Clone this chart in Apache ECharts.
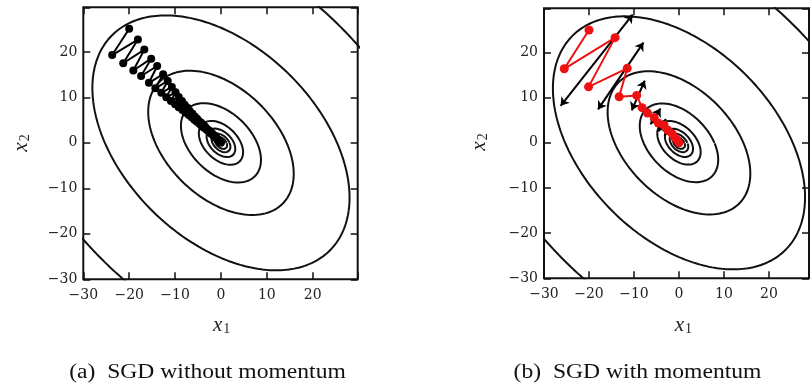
<!DOCTYPE html>
<html><head><meta charset="utf-8">
<script src="https://cdn.jsdelivr.net/npm/echarts@6/dist/echarts.min.js"></script>
<style>html,body{margin:0;padding:0;background:#fff}#c{width:812px;height:388px}</style>
</head><body><div id="c"></div>
<script>
// ---- data ----
const tickValues = [-30, -20, -10, 0, 10, 20];
const axisMin = -30;
const axisMaxA = 29.8, axisMaxB = 28.9;
// quadratic loss f(x1,x2) = a*x1^2 + 2*b*x1*x2 + c*x2^2
const quadA = 1, quadB = 0.43, quadC = 1;
const contourLevels = [1900, 640, 205, 62, 19, 8, 3.5, 1.5];

const sgdPath = [
  [-20.0, 25.1], [-23.7, 19.3], [-18.1, 22.7], [-21.3, 17.5], [-16.7, 20.5],
  [-19.1, 15.9], [-15.2, 18.5], [-17.4, 14.7], [-13.9, 16.9], [-15.7, 13.2],
  [-12.6, 15.1], [-14.3, 12.0], [-11.6, 13.6], [-13.0, 11.0], [-10.7, 12.3],
  [-11.9, 10.0], [-9.9, 11.1], [-10.9, 9.2], [-9.2, 10.1], [-10.0, 8.5],
  [-8.5, 9.2], [-9.2, 7.8], [-7.9, 8.4], [-8.4, 7.2], [-7.3, 7.7],
  [-7.7, 6.6], [-6.8, 7.0], [-7.0, 6.1], [-6.2, 6.4], [-6.4, 5.6],
  [-5.7, 5.8], [-5.8, 5.1], [-5.2, 5.3], [-5.3, 4.7], [-4.8, 4.8],
  [-4.8, 4.3], [-4.3, 4.4], [-4.4, 3.9], [-3.9, 4.0], [-3.9, 3.5],
  [-3.5, 3.6], [-3.5, 3.2], [-3.2, 3.2], [-3.1, 2.9], [-2.8, 2.9],
  [-2.8, 2.6], [-2.5, 2.6], [-2.4, 2.3], [-2.2, 2.3], [-2.1, 2.0],
  [-1.9, 2.0], [-1.8, 1.8], [-1.6, 1.7], [-1.5, 1.5], [-1.3, 1.4],
  [-1.2, 1.2], [-1.0, 1.1], [-0.9, 0.9], [-0.7, 0.8], [-0.6, 0.6],
  [-0.4, 0.5], [-0.3, 0.3], [-0.1, 0.2], [0.0, 0.0]
];

const momentumPath = [
  [-20.0, 25.0], [-25.5, 16.4], [-14.2, 23.3], [-20.1, 12.4], [-11.5, 16.5],
  [-13.3, 10.2], [-9.4, 10.5], [-8.2, 7.8], [-7.0, 6.6], [-5.5, 5.6],
  [-4.6, 4.4], [-3.3, 3.9], [-2.4, 2.7], [-1.5, 2.0], [-0.9, 1.1],
  [-0.3, 0.5], [0.0, 0.0]
];

const gradientArrows = [
  [[-26.3, 8.2], [-10.3, 28.4]],
  [[-18.0, 7.4], [-7.9, 22.2]],
  [[-10.5, 7.2], [-7.6, 13.8]],
  [[-6.3, 4.1], [-4.1, 7.6]],
  [[-4.6, 2.5], [-2.9, 5.3]],
  [[-3.2, 1.5], [-2.0, 3.6]]
];

const xName = 'x', xSub = '1', yName = 'x', ySub = '2';
const captions = ['(a)  SGD without momentum', '(b)  SGD with momentum'];

// ---- build ----
function contour(L) {
  const pts = [];
  for (let i = 0; i <= 360; i++) {
    const t = i * Math.PI / 180, c = Math.cos(t), s = Math.sin(t);
    const r = Math.sqrt(L / (quadA * c * c + 2 * quadB * c * s + quadC * s * s));
    pts.push([r * c, r * s]);
  }
  return pts;
}
function fmt(v) {
  if (Math.abs(v - Math.round(v / 10) * 10) > 1e-6 || tickValues.indexOf(Math.round(v)) < 0) return '';
  return v < 0 ? '\u2212' + (-v) : String(v);
}
const labelStyle = { fontFamily: 'DejaVu Serif', fontSize: 14, color: '#222', formatter: fmt };
const tickStyle = { inside: true, length: 7, lineStyle: { color: '#111', width: 1.5 } };
const noLine = { show: false, onZero: false };

const grids = [
  { left: 83.3, top: 7.3, width: 274.4, height: 272, show: true, borderColor: '#111', borderWidth: 2, backgroundColor: 'transparent' },
  { left: 544, top: 8.3, width: 272, height: 270, show: true, borderColor: '#111', borderWidth: 2, backgroundColor: 'transparent' }
];
const xMaxes = [axisMaxA, axisMaxB];
const xAxes = [], yAxes = [];
for (let g = 0; g < 2; g++) {
  xAxes.push({ type: 'value', gridIndex: g, position: 'bottom', min: axisMin, max: xMaxes[g], interval: 10,
    axisLine: noLine, axisTick: tickStyle, splitLine: { show: false },
    axisLabel: Object.assign({ margin: 9 }, labelStyle) });
  xAxes.push({ type: 'value', gridIndex: g, position: 'top', min: axisMin, max: xMaxes[g], interval: 10,
    axisLine: noLine, axisTick: tickStyle, splitLine: { show: false }, axisLabel: { show: false } });
  yAxes.push({ type: 'value', gridIndex: g, position: 'left', min: axisMin, max: axisMaxA, interval: 10,
    axisLine: noLine, axisTick: tickStyle, splitLine: { show: false },
    axisLabel: Object.assign({ margin: 6 }, labelStyle) });
  yAxes.push({ type: 'value', gridIndex: g, position: 'right', min: axisMin, max: axisMaxA, interval: 10,
    axisLine: noLine, axisTick: tickStyle, splitLine: { show: false }, axisLabel: { show: false } });
}

const series = [];
for (let g = 0; g < 2; g++) {
  contourLevels.forEach(L => {
    series.push({ type: 'line', xAxisIndex: g * 2, yAxisIndex: g * 2, data: contour(L), showSymbol: false,
      symbol: 'none', clip: true, silent: true, z: 2,
      lineStyle: { color: '#111', width: 2 } });
  });
}
series.push({ type: 'line', xAxisIndex: 0, yAxisIndex: 0, data: sgdPath, symbol: 'circle', symbolSize: 8,
  showSymbol: true, clip: true, z: 5, itemStyle: { color: '#000' }, lineStyle: { color: '#000', width: 2 } });
series.push({ type: 'lines', coordinateSystem: 'cartesian2d', xAxisIndex: 2, yAxisIndex: 2, z: 4,
  symbol: ['arrow', 'arrow'], symbolSize: 8,
  lineStyle: { color: '#000', width: 2, opacity: 1 },
  data: gradientArrows.map(a => ({ coords: a })) });
series.push({ type: 'line', xAxisIndex: 2, yAxisIndex: 2, data: momentumPath, symbol: 'circle', symbolSize: 9,
  showSymbol: true, clip: true, z: 6, itemStyle: { color: '#ee1111' }, lineStyle: { color: '#ee1111', width: 2 } });

const nameRich = {
  i: { fontFamily: 'Liberation Serif', fontStyle: 'italic', fontSize: 21, fill: '#222' },
  s: { fontFamily: 'Liberation Serif', fontSize: 14, fill: '#222', padding: [8, 0, 0, 1] }
};
const graphic = [
  { type: 'text', x: 221.7, y: 325, z: 10, style: { text: '{i|' + xName + '}{s|' + xSub + '}', rich: nameRich, align: 'center', verticalAlign: 'middle' } },
  { type: 'text', x: 683.3, y: 325, z: 10, style: { text: '{i|' + xName + '}{s|' + xSub + '}', rich: nameRich, align: 'center', verticalAlign: 'middle' } },
  { type: 'text', x: 21, y: 143, rotation: Math.PI / 2, z: 10, style: { text: '{i|' + yName + '}{s|' + ySub + '}', rich: nameRich, align: 'center', verticalAlign: 'middle' } },
  { type: 'text', x: 479, y: 142, rotation: Math.PI / 2, z: 10, style: { text: '{i|' + yName + '}{s|' + ySub + '}', rich: nameRich, align: 'center', verticalAlign: 'middle' } },
  { type: 'text', x: 207.5, y: 373, scaleX: 1.18, z: 10, style: { text: captions[0], font: '20px "Liberation Serif"', fill: '#111', align: 'center', verticalAlign: 'middle' } },
  { type: 'text', x: 637.5, y: 373, scaleX: 1.18, z: 10, style: { text: captions[1], font: '20px "Liberation Serif"', fill: '#111', align: 'center', verticalAlign: 'middle' } }
];

const chart = echarts.init(document.getElementById('c'), null, { renderer: 'canvas' });
chart.setOption({ animation: false, backgroundColor: '#fff', grid: grids, xAxis: xAxes, yAxis: yAxes, series, graphic });
</script></body></html>
